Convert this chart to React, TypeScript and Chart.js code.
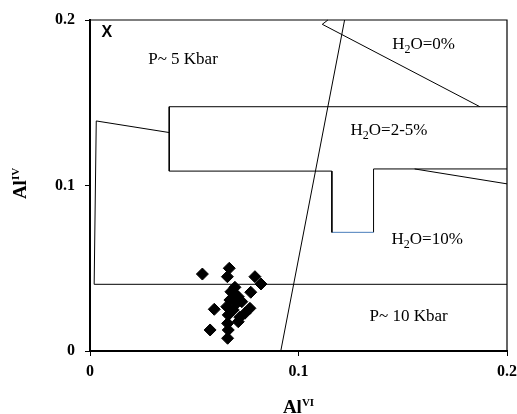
import React, { useEffect, useRef } from "react";
import { Chart, registerables } from "chart.js";

Chart.register(...registerables);

// Sample points (Al VI, Al IV)
const sampleAlVI = [0.0539, 0.0668, 0.0659, 0.0791, 0.082, 0.0771, 0.0676, 0.0695, 0.0711, 0.0703, 0.0596, 0.0656, 0.0687, 0.0767, 0.0743, 0.0719, 0.0663, 0.0711, 0.066, 0.0576, 0.0663, 0.066, 0.0671, 0.0728, 0.0692];
const sampleAlIV = [0.0465, 0.05, 0.0449, 0.0449, 0.0405, 0.0355, 0.0358, 0.0385, 0.0328, 0.0288, 0.0252, 0.0268, 0.0248, 0.0258, 0.0228, 0.0204, 0.0218, 0.0177, 0.0167, 0.0127, 0.0127, 0.0077, 0.0308, 0.0298, 0.0349];

// Boundary lines
const lowerBoundX = [0.2, 0.002, 0.003, 0.038];
const lowerBoundY = [0.0403, 0.0403, 0.139, 0.132];
const boxX = [0.2, 0.038, 0.038, 0.116, 0.116];
const boxY = [0.1476, 0.1476, 0.1087, 0.1087, 0.0717];
const notchX = [0.116, 0.136];
const notchY = [0.0717, 0.0717];
const boxRightX = [0.136, 0.136, 0.2];
const boxRightY = [0.0717, 0.110, 0.110];
const diagX = [0.1557, 0.2];
const diagY = [0.110, 0.101];
const dryX = [0.1141, 0.1114, 0.187];
const dryY = [0.2, 0.1974, 0.1476];
const steepX = [0.1221, 0.0915];
const steepY = [0.2, 0];

const axisTicks = [0, 0.1, 0.2];
const tickLabels = ["0", "0.1", "0.2"];

type Seg = { t: string; m?: "sub" | "sup" };
type Ann = { x: number; y: number; segs: Seg[] };

const annotations: Ann[] = [
  { x: 0.0446, y: 0.176, segs: [{ t: "P~ 5 Kbar" }] },
  { x: 0.160, y: 0.185, segs: [{ t: "H" }, { t: "2", m: "sub" }, { t: "O=0%" }] },
  { x: 0.1434, y: 0.133, segs: [{ t: "H" }, { t: "2", m: "sub" }, { t: "O=2-5%" }] },
  { x: 0.1617, y: 0.0675, segs: [{ t: "H" }, { t: "2", m: "sub" }, { t: "O=10%" }] },
  { x: 0.1528, y: 0.0207, segs: [{ t: "P~ 10 Kbar" }] },
];

const pts = (xs: number[], ys: number[]) => xs.map((x, i) => ({ x, y: ys[i] }));

function drawRich(ctx: CanvasRenderingContext2D, segs: Seg[], cx: number, cy: number, size: number, bold: boolean, smallRatio = 0.68) {
  const fam = '"Liberation Serif", "Times New Roman", serif';
  const w = bold ? "bold " : "";
  const small = Math.round(size * smallRatio);
  let total = 0;
  for (const s of segs) {
    ctx.font = `${w}${s.m ? small : size}px ${fam}`;
    total += ctx.measureText(s.t).width;
  }
  let x = cx - total / 2;
  ctx.textBaseline = "middle";
  ctx.textAlign = "left";
  for (const s of segs) {
    ctx.font = `${w}${s.m ? small : size}px ${fam}`;
    const dy = s.m === "sub" ? size * 0.3 : s.m === "sup" ? -size * 0.28 : 0;
    ctx.fillText(s.t, x, cy + dy);
    x += ctx.measureText(s.t).width;
  }
}

const overlayPlugin = {
  id: "overlay",
  afterDraw(chart: any) {
    const { ctx, chartArea, scales } = chart;
    ctx.save();
    // top/right frame
    ctx.strokeStyle = "#000";
    ctx.lineWidth = 1.2;
    ctx.beginPath();
    ctx.moveTo(chartArea.left, chartArea.top);
    ctx.lineTo(chartArea.right, chartArea.top);
    ctx.lineTo(chartArea.right, chartArea.bottom);
    ctx.stroke();
    ctx.fillStyle = "#000";
    // "X" label
    ctx.font = 'bold 16px "Liberation Sans", Arial, sans-serif';
    ctx.textAlign = "left";
    ctx.textBaseline = "middle";
    ctx.fillText("X", scales.x.getPixelForValue(0.0055), scales.y.getPixelForValue(0.1925));
    for (const a of annotations) {
      drawRich(ctx, a.segs, scales.x.getPixelForValue(a.x), scales.y.getPixelForValue(a.y), 17, false);
    }
    // axis titles
    const midX = (chartArea.left + chartArea.right) / 2;
    drawRich(ctx, [{ t: "Al" }, { t: "VI", m: "sup" }], midX, chart.height - 6, 19, true, 0.6);
    const midY = (chartArea.top + chartArea.bottom) / 2;
    ctx.translate(21, midY - 2);
    ctx.rotate(-Math.PI / 2);
    drawRich(ctx, [{ t: "Al" }, { t: "IV", m: "sup" }], 0, 0, 19, true, 0.6);
    ctx.restore();
  },
};

const lineDs = (xs: number[], ys: number[], color = "#000") => ({
  type: "line" as const,
  data: pts(xs, ys),
  borderColor: color,
  borderWidth: 1,
  pointRadius: 0,
  fill: false,
  showLine: true,
  tension: 0,
});

export default function App() {
  const ref = useRef<HTMLCanvasElement>(null);
  useEffect(() => {
    if (!ref.current) return;
    const tickFont = { family: '"Liberation Serif", "Times New Roman", serif', size: 16, weight: "bold" as const };
    const chart = new Chart(ref.current, {
      type: "scatter",
      data: {
        datasets: [
          lineDs(lowerBoundX, lowerBoundY),
          lineDs(boxX, boxY),
          lineDs(notchX, notchY, "#4a7ebb"),
          lineDs(boxRightX, boxRightY),
          lineDs(diagX, diagY),
          lineDs(dryX, dryY),
          lineDs(steepX, steepY),
          {
            type: "scatter" as const,
            data: pts(sampleAlVI, sampleAlIV),
            pointStyle: "rectRot",
            pointRadius: 6,
            backgroundColor: "#000",
            borderColor: "#000",
            borderWidth: 1,
          },
        ] as any,
      },
      options: {
        animation: false,
        responsive: false,
        maintainAspectRatio: false,
        clip: false as any,
        layout: { padding: { top: 20, right: 10, left: 0, bottom: 0 } },
        plugins: { legend: { display: false }, tooltip: { enabled: false } },
        scales: {
          x: {
            type: "linear",
            min: 0,
            max: 0.2,
            afterBuildTicks: (s: any) => { s.ticks = axisTicks.map((v) => ({ value: v })); },
            afterFit: (s: any) => { s.height = 63; s.paddingRight = 0; s.paddingLeft = 0; },
            ticks: {
              color: "#000",
              font: tickFont,
              padding: 6,
              maxRotation: 0,
              callback: (v: any) => tickLabels[axisTicks.indexOf(Number(v))] ?? "",
            },
            grid: { drawOnChartArea: false, drawTicks: true, tickLength: 5, color: "#000" },
            border: { display: true, color: "#000", width: 2 },
          },
          y: {
            type: "linear",
            min: 0,
            max: 0.2,
            afterBuildTicks: (s: any) => { s.ticks = axisTicks.map((v) => ({ value: v })); },
            afterFit: (s: any) => { s.width = 90; s.paddingTop = 0; s.paddingBottom = 0; },
            ticks: {
              color: "#000",
              font: tickFont,
              padding: 10,
              callback: (v: any) => tickLabels[axisTicks.indexOf(Number(v))] ?? "",
            },
            grid: { drawOnChartArea: false, drawTicks: true, tickLength: 5, color: "#000" },
            border: { display: true, color: "#000", width: 2 },
          },
        },
      },
      plugins: [overlayPlugin],
    });
    return () => chart.destroy();
  }, []);
  return (
    <div style={{ position: "fixed", left: 0, top: 0, width: 517, height: 414, background: "#fff" }}>
      <canvas ref={ref} width={517} height={414} style={{ width: 517, height: 414 }} />
    </div>
  );
}
